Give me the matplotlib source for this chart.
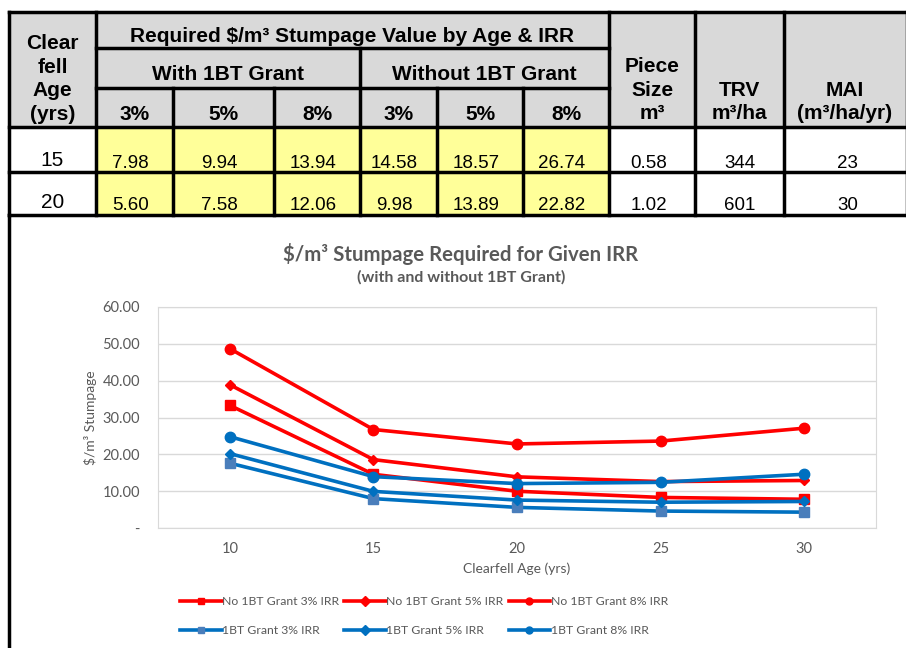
import matplotlib
matplotlib.use("Agg")
import matplotlib.pyplot as plt
from matplotlib.patches import Rectangle

# Table data
ages = [15, 20]
with_grant = [[7.98, 9.94, 13.94], [5.60, 7.58, 12.06]]
without_grant = [[14.58, 18.57, 26.74], [9.98, 13.89, 22.82]]
piece_size = ["0.58", "1.02"]
trv = [344, 601]
mai = [23, 30]
irr_labels = ["3%", "5%", "8%"]

# Chart data
clearfell_age = [10, 15, 20, 25, 30]
no_grant_3 = [33.3, 14.58, 9.98, 8.3, 7.8]
no_grant_5 = [38.9, 18.57, 13.89, 12.6, 12.9]
no_grant_8 = [48.7, 26.74, 22.82, 23.6, 27.1]
grant_3 = [17.6, 7.98, 5.60, 4.6, 4.3]
grant_5 = [20.2, 9.94, 7.58, 7.0, 7.2]
grant_8 = [24.8, 13.94, 12.06, 12.4, 14.6]

W, H = 906, 648
fig = plt.figure(figsize=(W / 100, H / 100), dpi=100)
fig.patch.set_facecolor("white")

# ---- table drawn in pixel coordinates ----
tab = fig.add_axes([0, 0, 1, 1])
tab.set_xlim(0, W)
tab.set_ylim(H, 0)
tab.axis("off")

col_x = [9, 96, 173, 274, 360, 437, 523, 609, 695, 784, 907]
row_y = [12, 48, 88, 127, 172, 215]
grey = "#D9D9D9"
yellow = "#FFFF99"
tfont = "Liberation Sans"
lw = 2.5

tab.add_patch(Rectangle((col_x[0], row_y[0]), col_x[-1] - col_x[0], row_y[3] - row_y[0],
                        facecolor=grey, edgecolor="none"))
for r in range(2):
    tab.add_patch(Rectangle((col_x[1], row_y[3 + r]), col_x[7] - col_x[1], row_y[4 + r] - row_y[3 + r],
                            facecolor=yellow, edgecolor="none"))

def hline(y, x0, x1):
    tab.plot([x0, x1], [y, y], color="black", lw=lw, solid_capstyle="projecting")

def vline(x, y0, y1):
    tab.plot([x, x], [y0, y1], color="black", lw=lw, solid_capstyle="projecting")

hline(row_y[0], col_x[0], col_x[-1])
hline(row_y[1], col_x[1], col_x[7])
hline(row_y[2], col_x[1], col_x[7])
for y in row_y[3:]:
    hline(y, col_x[0], col_x[-1])
for x in [col_x[0], col_x[1], col_x[7], col_x[8], col_x[9], col_x[10]]:
    vline(x, row_y[0], row_y[-1])
vline(col_x[4], row_y[1], row_y[-1])
for x in [col_x[2], col_x[3], col_x[5], col_x[6]]:
    vline(x, row_y[2], row_y[-1])
# chart frame left edge
vline(col_x[0], row_y[-1], H + 5)

hkw = dict(fontfamily=tfont, fontweight="bold", fontsize=15, ha="center", va="center", color="black")
tab.text((col_x[0] + col_x[1]) / 2, 79, "Clear\nfell\nAge\n(yrs)", linespacing=1.3, **hkw)
tab.text((col_x[1] + col_x[7]) / 2, 37, "Required $/m³ Stumpage Value by Age & IRR", **hkw)
tab.text((col_x[1] + col_x[4]) / 2, 75, "With 1BT Grant", **hkw)
tab.text((col_x[4] + col_x[7]) / 2, 75, "Without 1BT Grant", **hkw)
for i in range(6):
    tab.text((col_x[1 + i] + col_x[2 + i]) / 2, 115, irr_labels[i % 3], **hkw)
tab.text((col_x[7] + col_x[8]) / 2, 90, "Piece\nSize\nm³", linespacing=1.3, **hkw)
tab.text((col_x[8] + col_x[9]) / 2, 102, "TRV\nm³/ha", linespacing=1.3, **hkw)
tab.text((col_x[9] + col_x[10]) / 2 - 1, 102, "MAI\n(m³/ha/yr)", linespacing=1.3, **hkw)

dkw = dict(fontfamily=tfont, fontsize=13.5, ha="center", va="center", color="black")
for r in range(2):
    yb = row_y[4 + r] - 9
    tab.text((col_x[0] + col_x[1]) / 2, yb - 3, str(ages[r]), fontfamily=tfont, fontsize=15,
             ha="center", va="center")
    vals = with_grant[r] + without_grant[r]
    for i, v in enumerate(vals):
        tab.text((col_x[1 + i] + col_x[2 + i]) / 2 - 4, yb, f"{v:.2f}", **dkw)
    tab.text((col_x[7] + col_x[8]) / 2 - 3, yb, piece_size[r], **dkw)
    tab.text((col_x[8] + col_x[9]) / 2, yb, str(trv[r]), **dkw)
    tab.text((col_x[9] + col_x[10]) / 2 + 2, yb, str(mai[r]), **dkw)

# ---- chart ----
cfont = "Lato"
grey_txt = "#595959"
red = "#FF0000"
blue = "#0070C0"

ax = fig.add_axes([158 / W, 1 - 528 / H, (876 - 158) / W, (528 - 307) / H])
pos = list(range(len(clearfell_age)))
lines = {}
lines["no3"], = ax.plot(pos, no_grant_3, color=red, lw=2.6, marker="s", ms=7, label="No 1BT Grant 3% IRR")
lines["no5"], = ax.plot(pos, no_grant_5, color=red, lw=2.6, marker="D", ms=5, label="No 1BT Grant 5% IRR")
lines["no8"], = ax.plot(pos, no_grant_8, color=red, lw=2.6, marker="o", ms=7.5, label="No 1BT Grant 8% IRR")
lines["g3"], = ax.plot(pos, grant_3, color=blue, lw=2.6, marker="s", ms=7, mfc="#4A7EBB", mec="#4A7EBB",
                       label="1BT Grant 3% IRR")
lines["g5"], = ax.plot(pos, grant_5, color=blue, lw=2.6, marker="D", ms=5, label="1BT Grant 5% IRR")
lines["g8"], = ax.plot(pos, grant_8, color=blue, lw=2.6, marker="o", ms=7.5, label="1BT Grant 8% IRR")

ax.set_xlim(-0.5, len(pos) - 0.5)
ax.set_ylim(0, 60)
ax.set_xticks(pos)
ax.set_xticklabels([str(a) for a in clearfell_age])
yt = [0, 10, 20, 30, 40, 50, 60]
ax.set_yticks(yt)
ax.set_yticklabels(["-" if v == 0 else f"{v:.2f}" for v in yt])
ax.tick_params(length=0, labelsize=10.5, labelcolor=grey_txt)
ax.tick_params(axis="y", pad=13)
ax.tick_params(axis="x", pad=10)
for lab in ax.get_xticklabels() + ax.get_yticklabels():
    lab.set_fontfamily(cfont)
ax.grid(axis="y", color="#D9D9D9", lw=1)
ax.set_axisbelow(True)
for s in ax.spines.values():
    s.set_color("#D9D9D9")
ax.set_xlabel("Clearfell Age (yrs)", fontfamily=cfont, fontsize=10, color=grey_txt, labelpad=5)
ax.set_ylabel("$/m³ Stumpage", fontfamily=cfont, fontsize=10, color=grey_txt, labelpad=4)

fig.text(461 / W, 1 - 254 / H, "$/m³ Stumpage Required for Given IRR", fontfamily=cfont,
         fontweight="bold", fontsize=14.7, color=grey_txt, ha="center", va="center")
fig.text(461 / W, 1 - 277 / H, "(with and without 1BT Grant)", fontfamily=cfont,
         fontweight="bold", fontsize=11.5, color=grey_txt, ha="center", va="center")

order = ["no3", "g3", "no5", "g5", "no8", "g8"]
leg = fig.legend([lines[k] for k in order], [lines[k].get_label() for k in order],
                 ncol=3, loc="center", bbox_to_anchor=(424 / W, 1 - 616 / H), frameon=False,
                 handlelength=3.4, handletextpad=0.05, columnspacing=0.4, labelspacing=1.45,
                 prop={"family": cfont, "size": 8.8})
for t in leg.get_texts():
    t.set_color(grey_txt)
for h in leg.legend_handles:
    h.set_markersize(5)

fig.savefig("out.png", dpi=100)
